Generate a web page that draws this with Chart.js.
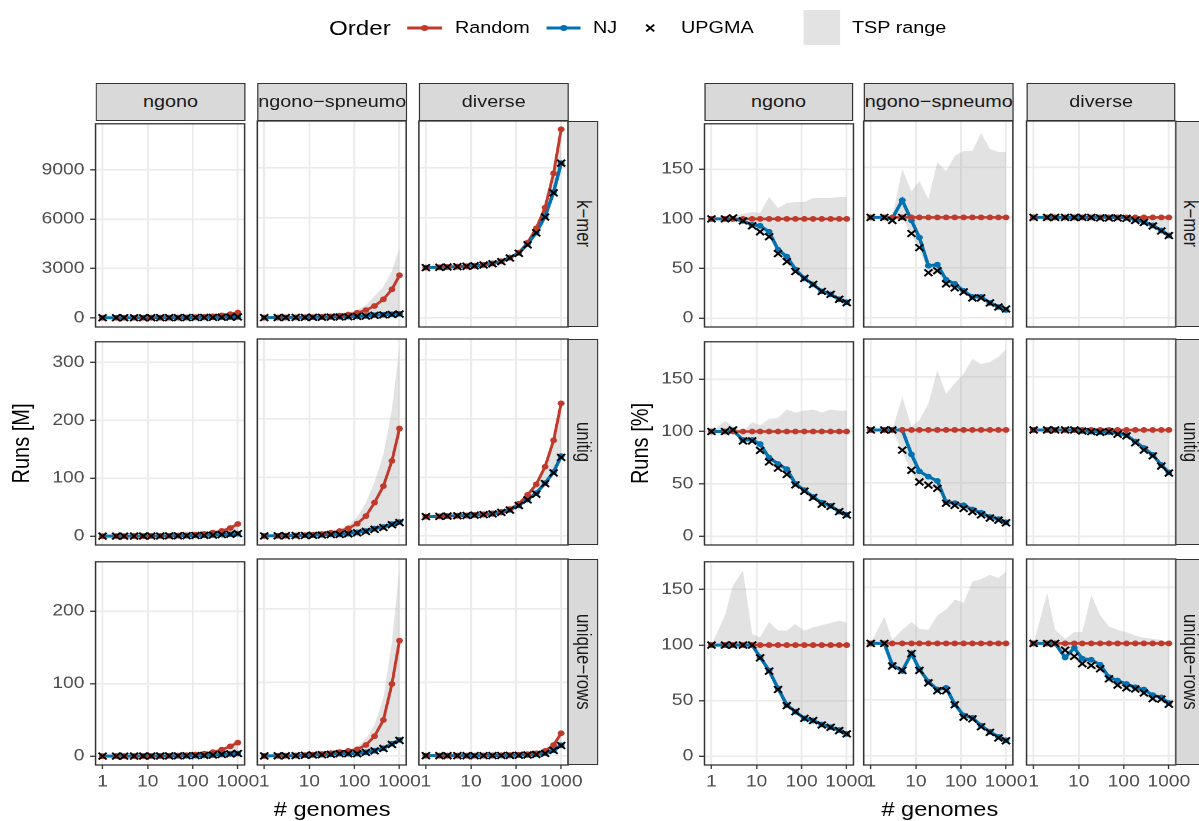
<!DOCTYPE html>
<html>
<head>
<meta charset="utf-8">
<script src="https://cdn.jsdelivr.net/npm/chart.js@4.4.1/dist/chart.umd.min.js"></script>
<style>
  html, body { margin:0; padding:0; background:#fff; overflow:hidden; }
  body { width:1199px; height:821px; }
  #page { position:absolute; left:0; top:0; height:821px; transform-origin:0 0;
          font-family:"Liberation Sans", Arial, Helvetica, sans-serif; }
  .abs { position:absolute; }
  .txt { position:absolute; white-space:nowrap; line-height:1.15; }
  .strip { position:absolute; box-sizing:border-box; background:#d9d9d9; border:1.3px solid #333;
           color:#1a1a1a; font-size:16.8px; display:flex; align-items:center; justify-content:center;
           overflow:hidden; white-space:nowrap; }
  .strip.v span { writing-mode:vertical-rl; }
</style>
</head>
<body>
<div id="page"></div>
<script>
// ========================== DATA ==========================
const genomes = [1, 2, 3, 5, 8, 12, 19, 30, 47, 73, 115, 180, 280, 440, 680, 1000];
const sets = ["ngono", "ngono−spneumo", "diverse"];
const methods = ["k−mer", "unitig", "unique−rows"];
const xTicks = [1, 10, 100, 1000];
const yTicksKmerM = [0, 3000, 6000, 9000];
const yTicksUnitigM = [0, 100, 200, 300];
const yTicksRowsM = [0, 100, 200];
const yTicksPct = [0, 50, 100, 150];

// ---- Runs [M] ----
const M_kmer_ngono_random = [0.32,0.64,0.96,1.6,2.6,3.8,6,9.6,15,23,37,58,90,140,218,320];
const M_kmer_ngono_nj     = [0.32,0.64,0.96,1.6,2.4,3.5,5.2,6.6,9.3,11.3,14.8,19.7,24.3,33.6,41.4,51];
const M_kmer_ngono_upgma  = [0.32,0.64,0.97,1.6,2.4,3.3,4.9,6.3,8.5,10.8,14.7,19.6,24.4,33.3,41.2,50];
const M_kmer_ngono_tspMin = [0.32,0.64,0.96,1.55,2.4,3.3,4.9,6.1,8.4,10.6,14.4,19.1,23.4,32.2,39.2,48];
const M_kmer_ngono_tspMax = [0.32,0.65,1,1.7,2.8,4,7.3,10.7,17.4,27,43,70,109,169,266,390];

const M_kmer_ngsp_random = [2.5,5,7.5,13,20,30,48,75,118,183,290,450,700,1100,1700,2540];
const M_kmer_ngsp_nj     = [2.5,5,7.4,15,19,24,25,39,45,62,80,100,150,170,200,230];
const M_kmer_ngsp_upgma  = [2.5,5,7.3,13,17,21,22,35,40,55,75,90,140,165,190,220];
const M_kmer_ngsp_tspMin = [2.5,5,7.3,13,17,21,21,34,39,53,72,86,133,154,170,203];
const M_kmer_ngsp_tspMax = [2.5,5,7.5,19,25,41,57,116,172,295,480,750,1290,1850,2800,4190];

const M_kmer_div_random = [3000,3020,3040,3060,3080,3110,3160,3250,3380,3600,3900,4500,5360,6600,8660,11300];
const M_kmer_div_nj     = [3000,3020,3040,3060,3080,3110,3160,3250,3380,3600,3880,4410,5100,6070,7530,9270];
const M_kmer_div_upgma  = [3000,3020,3040,3060,3080,3110,3160,3235,3360,3580,3860,4370,5090,6040,7490,9270];
const M_kmer_div_tspMin = [3000,3020,3040,3060,3080,3110,3150,3220,3350,3560,3840,4340,5060,6000,7450,9200];
const M_kmer_div_tspMax = [3000,3020,3040,3060,3080,3110,3160,3250,3380,3600,3900,4500,5360,6600,8660,11300];

const M_unitig_ngono_random = [0.02,0.04,0.06,0.1,0.16,0.25,0.4,0.65,1,1.6,2.5,3.9,6,9,14,21];
const M_unitig_ngono_nj     = [0.02,0.04,0.06,0.09,0.15,0.22,0.3,0.45,0.64,0.8,1.1,1.46,1.9,2.6,3.3,4.3];
const M_unitig_ngono_upgma  = [0.02,0.04,0.06,0.09,0.15,0.21,0.28,0.42,0.59,0.78,1.08,1.44,1.83,2.57,3.3,4.3];
const M_unitig_ngono_tspMin = [0.02,0.04,0.06,0.09,0.14,0.2,0.28,0.42,0.58,0.77,1.05,1.4,1.8,2.5,3.1,4];
const M_unitig_ngono_tspMax = [0.02,0.044,0.063,0.1,0.17,0.27,0.45,0.73,1.2,1.9,3,4.7,7.1,10.9,16.8,25];

const M_unitig_ngsp_random = [0.18,0.36,0.55,0.9,1.5,2.2,3.5,5.5,8.5,13,21,34,57,85,128,183];
const M_unitig_ngsp_nj     = [0.18,0.36,0.55,0.9,1.16,1.34,1.96,2.86,2.7,4,6.1,8.5,12.5,15.3,20.5,23.8];
const M_unitig_ngsp_upgma  = [0.18,0.36,0.55,0.73,0.93,1.12,1.68,2.5,2.6,3.8,5.5,7.8,11.4,14.5,19.2,22.9];
const M_unitig_ngsp_tspMin = [0.18,0.36,0.55,0.72,0.9,1.1,1.65,2.4,2.55,3.6,5.2,7.5,10.8,13.6,17.9,22];
const M_unitig_ngsp_tspMax = [0.18,0.36,0.55,1.2,1.5,2.4,4.4,8.6,11.4,18.7,32,57,92,139,216,322];

const M_unitig_div_random = [33,33.5,34,34.5,35,36,37,38.5,41,46,55,70,88,118,163,226];
const M_unitig_div_nj     = [33,33.5,34,34.5,35,35.6,36.4,37.7,40.2,44.6,52.2,62.3,73,90,109,136];
const M_unitig_div_upgma  = [33,33.5,34,34.5,35,35.6,36.4,37.7,40.3,44.2,51.9,61.6,71.3,89.2,107.6,134];
const M_unitig_div_tspMin = [33,33.5,34,34.5,35,35.5,36.2,37.3,39.8,43.9,51.5,61,70.4,88.5,106,132];
const M_unitig_div_tspMax = [33,33.5,34,34.5,35,36,37,38.5,41,46,55,70,88,118,163,226];

const M_rows_ngono_random = [0.018,0.036,0.054,0.09,0.15,0.22,0.35,0.55,0.87,1.4,2.2,3.4,5.5,9,13.5,18.6];
const M_rows_ngono_nj     = [0.018,0.036,0.054,0.09,0.15,0.2,0.27,0.34,0.4,0.56,0.75,1.1,1.57,2.34,3.2,3.7];
const M_rows_ngono_upgma  = [0.018,0.036,0.054,0.09,0.15,0.19,0.27,0.33,0.4,0.56,0.75,1.1,1.54,2.34,3.1,3.7];
const M_rows_ngono_tspMin = [0.018,0.036,0.054,0.09,0.15,0.19,0.26,0.32,0.38,0.55,0.73,1.05,1.5,2.25,3,3.5];
const M_rows_ngono_tspMax = [0.018,0.046,0.083,0.15,0.165,0.235,0.42,0.62,0.98,1.67,2.5,3.9,6.5,10.8,16.5,22.3];

const M_rows_ngsp_random = [0.15,0.3,0.45,0.75,1.2,1.8,2.8,4,5.5,7,9,15,27,49,98,157];
const M_rows_ngsp_nj     = [0.15,0.3,0.36,0.57,1.09,1.39,1.85,2.36,3.33,3.22,3.24,5.1,7.3,10.5,16.7,22];
const M_rows_ngsp_upgma  = [0.15,0.3,0.36,0.57,1.09,1.37,1.82,2.32,3.19,3.19,3.1,4.95,7,10.3,15.7,21.2];
const M_rows_ngsp_tspMin = [0.15,0.3,0.36,0.56,1.08,1.35,1.79,2.28,3.14,3.08,2.97,4.8,6.75,9.8,14.7,20.4];
const M_rows_ngsp_tspMax = [0.15,0.37,0.46,0.84,1.43,2.03,3.14,5,7.15,9.73,12.2,23.3,42.4,78.9,155,257];

const M_rows_div_random = [0.5,0.5,0.5,0.5,0.5,0.6,0.7,0.8,1,1.3,1.8,2.5,3.8,7,15,31];
const M_rows_div_nj     = [0.5,0.5,0.5,0.44,0.48,0.52,0.6,0.65,0.7,0.87,1.15,1.5,2.2,3.8,7.8,14.6];
const M_rows_div_upgma  = [0.5,0.5,0.5,0.47,0.44,0.49,0.56,0.62,0.68,0.82,1.09,1.49,2.13,3.57,7.6,14.3];
const M_rows_div_tspMin = [0.5,0.5,0.5,0.43,0.43,0.48,0.55,0.6,0.66,0.79,1.04,1.43,2.05,3.43,7.2,14];
const M_rows_div_tspMax = [0.5,0.73,0.56,0.52,0.55,0.66,1,1,1.15,1.46,2,2.7,4,7.3,15.5,31.3];

// ---- Runs [%] ----
const P_random = [100,100,100,100,100,100,100,100,100,100,100,100,100,100,100,100];

const P_kmer_ngono_nj     = [100,100,100,98,94,93,87,69,62,49,40,34,27,24,19,16];
const P_kmer_ngono_upgma  = [100,100,101,98,93,87,82,65,57,47,40,34,27,24,19,15.6];
const P_kmer_ngono_tspMin = [100,100,100,97,92,86,81,64,56,46,39,33,26,23,18,15];
const P_kmer_ngono_tspMax = [100,102,103,105,107,106,122,111,116,117,117,121,121,121,122,122];

const P_kmer_ngsp_nj     = [100,100,99,117,97,80,52,53,38,34,27,21,21,15,11,8];
const P_kmer_ngsp_upgma  = [100,100,97,100,84,70,45,47,34,30,26,20,20,15,11,9];
const P_kmer_ngsp_tspMin = [100,100,97,99,83,69,44,45,33,29,25,19,19,14,10,8];
const P_kmer_ngsp_tspMax = [100,100,100,148,126,136,118,155,146,161,166,166,184,168,165,165];

const P_kmer_div_nj     = [100,100,100,100,100,100,100,100,100,100,99.5,98,95.5,92,87,82];
const P_kmer_div_upgma  = [100,100,100,100,100,100,100,99.5,99.5,99.5,99,97,95,91.5,86.5,82];
const P_kmer_div_tspMin = [100,100,100,100,100,100,99.5,99,99,99,98.5,96.5,94.5,91,86,81.5];
const P_kmer_div_tspMax = [100,100,100,100,100,100,100,100,100,100,100,100,100,100,100,100];

const P_unitig_ngono_nj     = [100,100,101,92,92,88,75,69,64,50,44,37.5,32,29,23.5,20.5];
const P_unitig_ngono_upgma  = [100,100,101.5,91,91,82,71,65,59,49,43,37,30.5,28.5,23.5,20.3];
const P_unitig_ngono_tspMin = [100,100,100,90,90,81,70,64,58,48,42,36,30,28,22,19];
const P_unitig_ngono_tspMax = [100,110,105,100,109,106,112,113,121,118,120,121,118,121,120,120];

const P_unitig_ngsp_nj     = [100,100,100,100,77,61,56,52,32,31,29,25,22,18,16,13];
const P_unitig_ngsp_upgma  = [100,100,100,81,62,51,48,45,31,29,26,23,20,17,15,12.5];
const P_unitig_ngsp_tspMin = [100,100,100,80,60,50,47,44,30,28,25,22,19,16,14,12];
const P_unitig_ngsp_tspMax = [100,100,100,131,103,109,125,156,134,144,153,167,162,164,169,176];

const P_unitig_div_nj     = [100,100,100,100,100,99,98.5,98,98,97,95,89,83,76.5,67,60];
const P_unitig_div_upgma  = [100,100,100,100,100,99,98.4,97.8,98.4,96,94.4,88,81,75.6,66,59.4];
const P_unitig_div_tspMin = [100,100,100,100,100,98.5,98,97,97,95.5,94,87,80,75,65,58.5];
const P_unitig_div_tspMax = [100,100,100,100,100,100,100,100,100,100,100,100,100,100,100,100];

const P_rows_ngono_nj     = [100,100,100,100,100,89,77,61,46,40,34,32,28.5,26,23.5,20];
const P_rows_ngono_upgma  = [100,100,100,100,100,88.5,76.5,60,45.5,40,34,32,28,26,23,20];
const P_rows_ngono_tspMin = [100,100,100,100,100,87,75,59,44,39,33,31,27,25,22,19];
const P_rows_ngono_tspMax = [100,127,154,167,110,107,121,113,113,119,113,116,118,120,122,120];

const P_rows_ngsp_nj     = [100,100,81,75.5,91,77,66,59,60.5,46,36,34,27,21.5,17,14];
const P_rows_ngsp_upgma  = [100,100,80,76,91,76,65,58,58,45.5,34.5,33,26,21,16,13.5];
const P_rows_ngsp_tspMin = [100,100,79,74,90,75,64,57,57,44,33,32,25,20,15,13];
const P_rows_ngsp_tspMax = [100,124,103,112,119,113,112,125,130,139,136,155,157,161,158,164];

const P_rows_div_nj     = [100,100,100,87.5,96,86.5,85.5,81,70,67,64,61,59,54,52,47];
const P_rows_div_upgma  = [100,100,100,94,88.5,82,80.5,77.5,68.5,63,60.5,59.5,56,51,50.5,46];
const P_rows_div_tspMin = [100,100,100,86,86,80,78,75,66,61,58,57,54,49,48,45];
const P_rows_div_tspMax = [100,145,112,104,110,110,143,125,115,112,110,107,105,104,103,101];

// ========================== LAYOUT ==========================
// the reference picture is stretched sideways, so the whole page is too
const SX = 1.18;
const FONT = '"Liberation Sans", Arial, Helvetica, sans-serif';
const RED = "#c0392b", BLUE = "#0072b2", GRAY = "rgba(175,175,175,0.36)";
const PW = 149, PH = 206;
const ROWS = [121, 339.3, 559.3];
const XMIN = 0.708, XMAX = 1413;

const page = document.getElementById("page");
page.style.width = (1199 / SX) + "px";
page.style.transform = "scaleX(" + SX + ")";

function put(el, x, y, w, h){
  el.style.left = (x / SX) + "px";
  el.style.top = y + "px";
  if (w != null) el.style.width = (w / SX) + "px";
  if (h != null) el.style.height = h + "px";
  page.appendChild(el);
  return el;
}

function text(str, x, yc, size, align, color){
  const d = document.createElement("div");
  d.className = "txt";
  d.textContent = str;
  d.style.fontSize = size + "px";
  d.style.color = color || "#000";
  put(d, x, yc - 0.575 * size);
  if (align === "center") d.style.transform = "translateX(-50%)";
  return d;
}

// ========================== PANEL ==========================
const borderPlugin = {
  id: "panelBorder",
  afterDraw(chart){
    const a = chart.chartArea, ctx = chart.ctx;
    ctx.save();
    ctx.strokeStyle = "#333333";
    ctx.lineWidth = 1.3;
    ctx.strokeRect(a.left, a.top, a.right - a.left, a.bottom - a.top);
    ctx.restore();
  }
};

function pts(arr){ return genomes.map((g, i) => ({ x: g, y: arr[i] })); }

function panel(px, py, s, yr, yt, showX, showY){
  const ML = 50, MT = 12, MB = 32;
  const cw = PW / SX;
  const W = Math.ceil(ML + cw + 26);
  const MR = W - ML - cw;
  const H = MT + PH + MB;
  const cv = document.createElement("canvas");
  cv.width = W; cv.height = H;
  cv.className = "abs";
  cv.style.width = W + "px"; cv.style.height = H + "px";
  cv.style.left = (px / SX - ML) + "px";
  cv.style.top = (py - MT) + "px";
  page.appendChild(cv);

  const none = "rgba(0,0,0,0)";
  new Chart(cv, {
    type: "line",
    data: {
      datasets: [
        { data: pts(s.upgma), showLine: false, pointStyle: "crossRot", pointRadius: 4.8,
          pointBorderColor: "#000", pointBorderWidth: 1.8, borderColor: "#000" },
        { data: pts(s.random), showLine: false, pointRadius: 2.9,
          pointBackgroundColor: RED, pointBorderWidth: 0, borderColor: RED },
        { data: pts(s.nj), borderColor: BLUE, borderWidth: 3, pointRadius: 2.9,
          pointBackgroundColor: BLUE, pointBorderWidth: 0 },
        { data: pts(s.random), borderColor: RED, borderWidth: 2.5, pointRadius: 0 },
        { data: pts(s.tspMax), borderColor: none, borderWidth: 0, pointRadius: 0,
          fill: "+1", backgroundColor: GRAY },
        { data: pts(s.tspMin), borderColor: none, borderWidth: 0, pointRadius: 0, fill: false }
      ]
    },
    options: {
      responsive: false, animation: false, devicePixelRatio: 2, events: [],
      layout: { padding: { left: 0, right: MR, top: MT, bottom: 0 } },
      plugins: { legend: { display: false }, tooltip: { enabled: false } },
      scales: {
        x: {
          type: "logarithmic", min: XMIN, max: XMAX,
          afterBuildTicks: a => { a.ticks = xTicks.map(v => ({ value: v })); },
          afterFit: a => { a.height = MB; },
          border: { display: false },
          grid: { color: "#ebebeb", lineWidth: 1.6, drawTicks: showX, tickLength: 4,
                  tickColor: "#333333", tickWidth: 1.1 },
          ticks: { display: showX, autoSkip: false, maxRotation: 0, padding: 3,
                   color: "#4d4d4d", font: { family: FONT, size: 16.3 },
                   callback: v => String(v) }
        },
        y: {
          type: "linear", min: yr[0], max: yr[1],
          afterBuildTicks: a => { a.ticks = yt.map(v => ({ value: v })); },
          afterFit: a => { a.width = ML; },
          border: { display: false },
          grid: { color: "#ebebeb", lineWidth: 1.6, drawTicks: showY, tickLength: 4.5,
                  tickColor: "#333333", tickWidth: 1.3 },
          ticks: { display: showY, padding: 5, color: "#4d4d4d",
                   font: { family: FONT, size: 16.3 }, callback: v => String(v) }
        }
      }
    },
    plugins: [borderPlugin]
  });
}

function series(random, nj, upgma, tspMin, tspMax){ return { random, nj, upgma, tspMin, tspMax }; }

const groups = [
  {
    cols: [96, 257.7, 419.3],
    yr: [[-562, 11800], [-15.3, 335.6], [-12.2, 268]],
    yt: [yTicksKmerM, yTicksUnitigM, yTicksRowsM],
    title: "Runs [M]", titleX: 21,
    s: [
      [series(M_kmer_ngono_random, M_kmer_ngono_nj, M_kmer_ngono_upgma, M_kmer_ngono_tspMin, M_kmer_ngono_tspMax),
       series(M_kmer_ngsp_random, M_kmer_ngsp_nj, M_kmer_ngsp_upgma, M_kmer_ngsp_tspMin, M_kmer_ngsp_tspMax),
       series(M_kmer_div_random, M_kmer_div_nj, M_kmer_div_upgma, M_kmer_div_tspMin, M_kmer_div_tspMax)],
      [series(M_unitig_ngono_random, M_unitig_ngono_nj, M_unitig_ngono_upgma, M_unitig_ngono_tspMin, M_unitig_ngono_tspMax),
       series(M_unitig_ngsp_random, M_unitig_ngsp_nj, M_unitig_ngsp_upgma, M_unitig_ngsp_tspMin, M_unitig_ngsp_tspMax),
       series(M_unitig_div_random, M_unitig_div_nj, M_unitig_div_upgma, M_unitig_div_tspMin, M_unitig_div_tspMax)],
      [series(M_rows_ngono_random, M_rows_ngono_nj, M_rows_ngono_upgma, M_rows_ngono_tspMin, M_rows_ngono_tspMax),
       series(M_rows_ngsp_random, M_rows_ngsp_nj, M_rows_ngsp_upgma, M_rows_ngsp_tspMin, M_rows_ngsp_tspMax),
       series(M_rows_div_random, M_rows_div_nj, M_rows_div_upgma, M_rows_div_tspMin, M_rows_div_tspMax)]
    ]
  },
  {
    cols: [704, 864.3, 1026.7],
    yr: [[-8.9, 195.8], [-8.4, 185.7], [-8, 175]],
    yt: [yTicksPct, yTicksPct, yTicksPct],
    title: "Runs [%]", titleX: 641,
    s: [
      [series(P_random, P_kmer_ngono_nj, P_kmer_ngono_upgma, P_kmer_ngono_tspMin, P_kmer_ngono_tspMax),
       series(P_random, P_kmer_ngsp_nj, P_kmer_ngsp_upgma, P_kmer_ngsp_tspMin, P_kmer_ngsp_tspMax),
       series(P_random, P_kmer_div_nj, P_kmer_div_upgma, P_kmer_div_tspMin, P_kmer_div_tspMax)],
      [series(P_random, P_unitig_ngono_nj, P_unitig_ngono_upgma, P_unitig_ngono_tspMin, P_unitig_ngono_tspMax),
       series(P_random, P_unitig_ngsp_nj, P_unitig_ngsp_upgma, P_unitig_ngsp_tspMin, P_unitig_ngsp_tspMax),
       series(P_random, P_unitig_div_nj, P_unitig_div_upgma, P_unitig_div_tspMin, P_unitig_div_tspMax)],
      [series(P_random, P_rows_ngono_nj, P_rows_ngono_upgma, P_rows_ngono_tspMin, P_rows_ngono_tspMax),
       series(P_random, P_rows_ngsp_nj, P_rows_ngsp_upgma, P_rows_ngsp_tspMin, P_rows_ngsp_tspMax),
       series(P_random, P_rows_div_nj, P_rows_div_upgma, P_rows_div_tspMin, P_rows_div_tspMax)]
    ]
  }
];

// ========================== BUILD ==========================
groups.forEach(g => {
  for (let r = 0; r < 3; r++) {
    for (let c = 0; c < 3; c++) {
      panel(g.cols[c], ROWS[r], g.s[r][c], g.yr[r], g.yt[r], r === 2, c === 0);
    }
  }
  // column strips
  g.cols.forEach((cx, c) => {
    const d = document.createElement("div");
    d.className = "strip";
    d.innerHTML = "<span>" + sets[c] + "</span>";
    put(d, cx, 83.3, PW, 37.7);
  });
  // row strips
  const sx = g.cols[2] + PW - 0.6;
  ROWS.forEach((ry, r) => {
    const d = document.createElement("div");
    d.className = "strip v";
    d.innerHTML = "<span>" + methods[r] + "</span>";
    put(d, sx, ry, 30, PH);
  });
  // axis titles
  const yt = text(g.title, g.titleX, 443, 20, null);
  yt.style.transform = "translate(-50%, 0) rotate(-90deg)";
  yt.style.transformOrigin = "50% 50%";
  text("# genomes", (g.cols[0] + g.cols[2] + PW) / 2, 809, 20, "center");
});

// ========================== LEGEND ==========================
text("Order", 329, 28, 20.5);
function key(x, w, color){
  const ns = "http://www.w3.org/2000/svg";
  const svg = document.createElementNS(ns, "svg");
  svg.setAttribute("width", w / SX); svg.setAttribute("height", 12);
  svg.setAttribute("viewBox", "0 0 " + (w / SX) + " 12");
  svg.style.position = "absolute";
  svg.innerHTML = '<line x1="0" y1="6" x2="' + (w / SX) + '" y2="6" stroke="' + color + '" stroke-width="3"/>' +
                  '<circle cx="' + (w / SX / 2) + '" cy="6" r="3" fill="' + color + '"/>';
  svg.style.left = (x / SX) + "px"; svg.style.top = "22px";
  page.appendChild(svg);
}
key(407, 35, RED);
text("Random", 455, 28, 16.8);
key(546, 35, BLUE);
text("NJ", 593, 28, 16.8);
(function(){
  const ns = "http://www.w3.org/2000/svg";
  const svg = document.createElementNS(ns, "svg");
  svg.setAttribute("width", 10); svg.setAttribute("height", 10);
  svg.style.position = "absolute";
  svg.innerHTML = '<path d="M1.6,1.6 L8.4,8.4 M8.4,1.6 L1.6,8.4" stroke="#000" stroke-width="1.6"/>';
  svg.style.left = (650 / SX - 5) + "px"; svg.style.top = "23px";
  page.appendChild(svg);
})();
text("UPGMA", 681, 28, 16.8);
(function(){
  const d = document.createElement("div");
  d.className = "abs";
  d.style.background = "#e3e3e3";
  put(d, 804, 10, 36, 35);
})();
text("TSP range", 852, 28, 16.8);
</script>
</body>
</html>
